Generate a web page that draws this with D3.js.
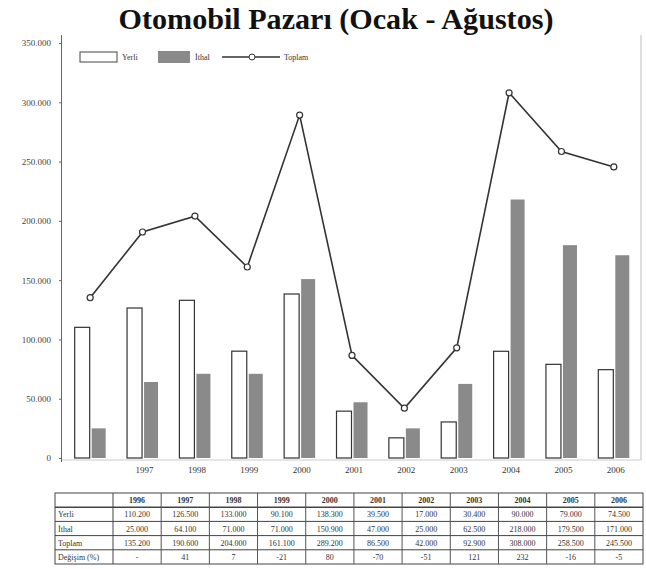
<!DOCTYPE html>
<html><head><meta charset="utf-8">
<script src="https://cdn.jsdelivr.net/npm/d3@7"></script>
<style>
html,body{margin:0;padding:0;background:#fff;}
svg{display:block;font-family:"Liberation Serif","DejaVu Serif",serif;}
</style></head>
<body>
<svg id="c" width="646" height="569"></svg>
<script>
const years = ["1996","1997","1998","1999","2000","2001","2002","2003","2004","2005","2006"];
const yerli  = [110200,126500,133000,90100,138300,39500,17000,30400,90000,79000,74500];
const ithal  = [25000,64100,71000,71000,150900,47000,25000,62500,218000,179500,171000];
const toplam = [135200,190600,204000,161100,289200,86500,42000,92900,308000,258500,245500];
const degisim = ["-","41","7","-21","80","-70","-51","121","232","-16","-5"];
const yTicks = [0,50000,100000,150000,200000,250000,300000,350000];
const seriesNames = ["Yerli","İthal","Toplam"];
const rowLabels = ["Yerli","İthal","Toplam","Değişim (%)"];
const titleText = "Otomobil Pazarı (Ocak - Ağustos)";

const svg = d3.select("#c");
const tr = d3.formatLocale({decimal:",",thousands:".",grouping:[3],currency:["","TL"]});
const fmt = tr.format(",d");

// title
const title = svg.append("text").attr("x",336).attr("y",29).attr("text-anchor","middle")
  .attr("font-weight","bold").attr("font-size",25).attr("fill","#111").text(titleText);
const w = title.node().getComputedTextLength();
title.attr("font-size", 25*435/w);

const x = d3.scaleBand().domain(years).range([64,640]).paddingInner(0.41).paddingOuter(0.2);
const xc = d3.scaleBand().domain(years).range([64,640]);
const y = d3.scaleLinear().domain([0,350000]).range([458,43]);

// frame lines
svg.append("line").attr("x1",641).attr("x2",641).attr("y1",35).attr("y2",460).attr("stroke","#bbb");
svg.append("line").attr("x1",62).attr("x2",641).attr("y1",460).attr("y2",460).attr("stroke","#ccc");

// y axis
const yAxis = d3.axisLeft(y).tickValues(yTicks).tickFormat(d=>fmt(d)).tickSize(3).tickPadding(8);
const ga = svg.append("g").attr("transform","translate(62,0)").call(yAxis);
ga.select(".domain").attr("stroke","#666").attr("d","M-0.5,35V462");
ga.selectAll(".tick line").attr("stroke","#666");
ga.selectAll("text").attr("font-size",9).attr("fill","#444").attr("font-family","Liberation Serif");

// x axis labels
const xAxis = d3.axisBottom(xc).tickFormat((d,i)=> i===0 ? "" : d).tickSize(0).tickPadding(6);
const gx = svg.append("g").attr("transform","translate(2,461)").call(xAxis);
gx.select(".domain").remove();
gx.selectAll("text").attr("font-size",9).attr("fill","#333").attr("font-family","Liberation Serif");

// bars
const bw = 15;
svg.append("g").selectAll("rect").data(years).join("rect")
  .attr("x",d=>xc(d)+xc.bandwidth()/2-bw-0.5).attr("width",bw)
  .attr("y",(d,i)=>y(yerli[i])).attr("height",(d,i)=>y(0)-y(yerli[i]))
  .attr("fill","#fff").attr("stroke","#333").attr("stroke-width",1.2);
svg.append("g").selectAll("rect").data(years).join("rect")
  .attr("x",d=>xc(d)+xc.bandwidth()/2+1.5).attr("width",bw-1)
  .attr("y",(d,i)=>y(ithal[i])).attr("height",(d,i)=>y(0)-y(ithal[i]))
  .attr("fill","#8a8a8a");

// line
const line = d3.line().x((d,i)=>xc(years[i])+xc.bandwidth()/2).y(d=>y(d));
svg.append("path").datum(toplam).attr("d",line).attr("fill","none").attr("stroke","#333").attr("stroke-width",1.6);
svg.append("g").selectAll("circle").data(toplam).join("circle")
  .attr("cx",(d,i)=>xc(years[i])+xc.bandwidth()/2).attr("cy",d=>y(d)).attr("r",3)
  .attr("fill","#fff").attr("stroke","#333").attr("stroke-width",1.2);

// legend
const lg = svg.append("g");
lg.append("rect").attr("x",80).attr("y",52).attr("width",37).attr("height",10).attr("fill","#fff").attr("stroke","#444");
lg.append("text").attr("x",122).attr("y",60).attr("font-size",8).attr("fill","#333").text(seriesNames[0]);
lg.append("rect").attr("x",158).attr("y",51).attr("width",32).attr("height",12).attr("fill","#8a8a8a");
lg.append("text").attr("x",195).attr("y",60).attr("font-size",8).attr("fill","#333").text(seriesNames[1]);
lg.append("line").attr("x1",222).attr("x2",280).attr("y1",57).attr("y2",57).attr("stroke","#333").attr("stroke-width",1.4);
lg.append("circle").attr("cx",252).attr("cy",57).attr("r",3).attr("fill","#fff").attr("stroke","#333");
lg.append("text").attr("x",284).attr("y",60).attr("font-size",8).attr("fill","#333").text(seriesNames[2]);

// table
const tx0 = 55, tx1 = 113, tx2 = 643, ty0 = 493, rh = 14.2;
const cw = (tx2-tx1)/years.length;
const tg = svg.append("g");
const rows = [yerli.map(fmt), ithal.map(fmt), toplam.map(fmt), degisim];
tg.append("rect").attr("x",tx0).attr("y",ty0).attr("width",tx2-tx0).attr("height",rh*5).attr("fill","none").attr("stroke","#444");
for(let r=1;r<5;r++) tg.append("line").attr("x1",tx0).attr("x2",tx2).attr("y1",ty0+r*rh).attr("y2",ty0+r*rh).attr("stroke","#444").attr("stroke-width", r===1?1.4:1);
tg.append("line").attr("x1",tx1).attr("x2",tx1).attr("y1",ty0).attr("y2",ty0+rh*5).attr("stroke","#444");
years.forEach((yr,i)=>{
  const cx = tx1+cw*i;
  if(i>0) tg.append("line").attr("x1",cx).attr("x2",cx).attr("y1",ty0).attr("y2",ty0+rh*5).attr("stroke","#555");
  tg.append("text").attr("x",cx+cw/2).attr("y",ty0+rh-4).attr("text-anchor","middle").attr("font-size",8).attr("font-weight","bold").attr("fill","#333").text(yr);
  rows.forEach((row,r)=>{
    tg.append("text").attr("x",cx+cw/2).attr("y",ty0+(r+2)*rh-4).attr("text-anchor","middle").attr("font-size",8).attr("fill","#333").text(row[i]);
  });
});
rowLabels.forEach((l,r)=>{
  tg.append("text").attr("x",tx0+3).attr("y",ty0+(r+2)*rh-4).attr("font-size",8).attr("fill","#333").text(l);
});
</script>
</body></html>
